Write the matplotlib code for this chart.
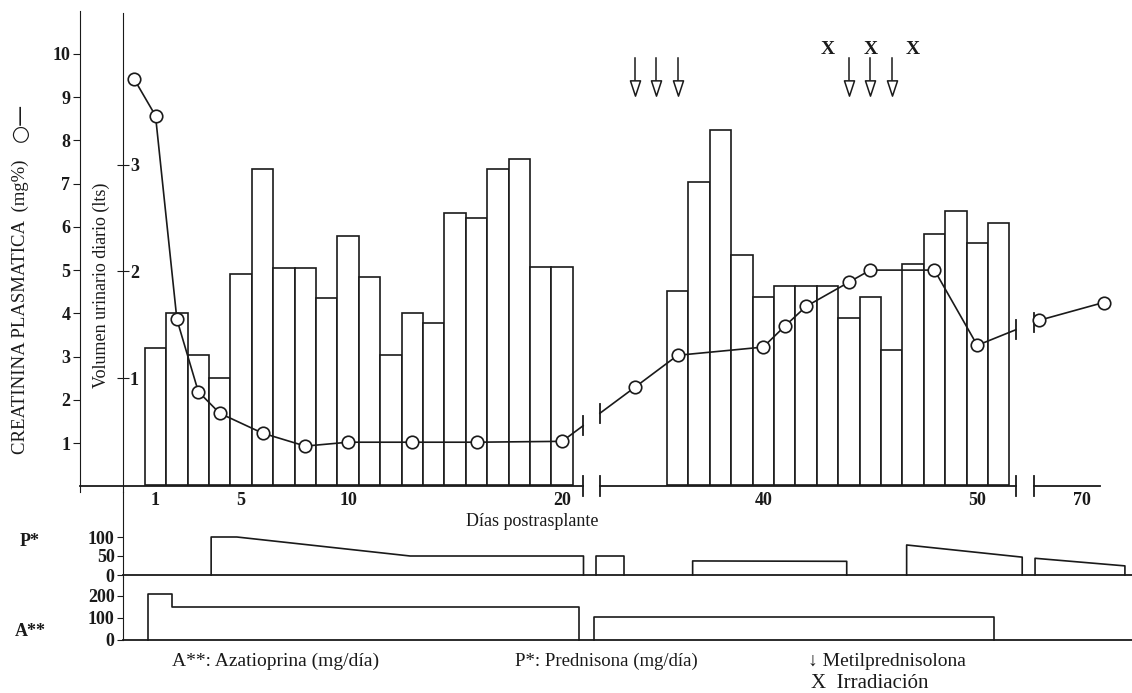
import numpy as np
import matplotlib.pyplot as plt
from matplotlib.path import Path

plt.rcParams['font.family'] = ['Liberation Serif', 'DejaVu Serif']

# creatinina plasmatica (mg%)
crea_days = [0, 1, 2, 3, 4, 6, 8, 10, 13, 16, 20, 34, 36, 40, 41, 42, 44, 45, 48, 50, 68, 71]
crea_vals = [9.42, 8.57, 3.86, 2.19, 1.69, 1.23, 0.93, 1.02, 1.02, 1.02, 1.04,
             2.29, 3.03, 3.22, 3.70, 4.16, 4.72, 5.0, 5.0, 3.26, 3.84, 4.25]

# volumen urinario diario (lts)
vol_days = list(range(1, 21)) + list(range(36, 52))
vol_vals = [1.28, 1.61, 1.22, 1.00, 1.98, 2.96, 2.03, 2.03, 1.75, 2.33,
            1.95, 1.22, 1.61, 1.52, 2.55, 2.50, 2.96, 3.05, 2.04, 2.04,
            1.82, 2.84, 3.32, 2.15, 1.76, 1.86, 1.86, 1.86, 1.56, 1.76,
            1.26, 2.07, 2.35, 2.57, 2.27, 2.45]

# prednisona (mg/dia), trozos
pred_days = [[3.6, 3.6, 4.8, 12.9, 21.0, 21.0],
             [32.2, 32.2, 33.5, 33.5],
             [36.7, 36.7, 43.9, 43.9],
             [46.7, 46.7, 52.1, 52.1],
             [67.8, 67.8, 72.0, 72.0]]
pred_vals = [[0, 100, 100, 50, 50, 0],
             [0, 50, 50, 0],
             [0, 37, 36, 0],
             [0, 79, 47, 0],
             [0, 44, 24, 0]]

# azatioprina (mg/dia)
aza_days = [[0.65, 0.65, 1.77, 1.77, 20.8, 20.8],
            [32.1, 32.1, 50.8, 50.8]]
aza_vals = [[0, 210, 210, 150, 150, 0],
            [0, 105, 105, 0]]

metil_days = [34, 35, 36, 44, 45, 46]
irrad_days = [43, 45, 47]

xtick_days = [1, 5, 10, 20, 40, 50, 70]

W, H = 1132, 693
PXDAY = 21.4
X1 = 155.5          # pixel of day 1
OFF2, OFF3 = 10.6, 25.7
GAPS = [(20.98, 21.77), (41.2, 42.05)]
LC = '#1a1a1a'


def pos(day):
    day = np.asarray(day, dtype=float)
    return np.where(day <= 21.3, day, np.where(day < 60, day - OFF2, day - OFF3))


def px2pos(px):
    return 1 + (px - X1) / PXDAY


def rect(top, bottom):
    return [0, 1 - bottom / H, 1, (bottom - top) / H]


xlim = (px2pos(0), px2pos(W))

fig = plt.figure(figsize=(W / 100, H / 100), dpi=100)

# ---- main panel: creatinine + urine volume
AXB = 492
ax = fig.add_axes(rect(1, AXB))
c0, cpx = 486.3, 43.33
ax.set_xlim(*xlim)
ax.set_ylim((c0 - AXB) / cpx, c0 / cpx)
for s in ['top', 'right', 'bottom']:
    ax.spines[s].set_visible(False)
ax.spines['left'].set_position(('data', px2pos(80)))
ax.spines['left'].set_bounds((c0 - AXB) / cpx, 11.0)
ax.spines['left'].set_color(LC)
ax.set_yticks(range(1, 11))
ax.tick_params(axis='y', direction='out', length=5, labelsize=13, pad=2, colors=LC)
ax.set_xticks(pos(xtick_days))
ax.set_xticklabels([str(d) for d in xtick_days])
ax.tick_params(axis='x', length=0, labelsize=13, pad=0, colors=LC)
for t in ax.get_xticklabels() + ax.get_yticklabels():
    t.set_fontweight('bold')

ax2 = ax.twinx()
v0, vpx = 485, 107
ax2.set_ylim((v0 - AXB) / vpx, v0 / vpx)
for s in ['top', 'left', 'bottom']:
    ax2.spines[s].set_visible(False)
ax2.spines['right'].set_position(('data', px2pos(123)))
ax2.spines['right'].set_bounds((v0 - AXB) / vpx, (v0 - 12) / vpx)
ax2.spines['right'].set_color(LC)
ax2.set_yticks([1, 2, 3])
ax2.tick_params(axis='y', direction='inout', length=8, labelsize=13, pad=1, colors=LC)
for t in ax2.get_yticklabels():
    t.set_fontweight('bold')
ax2.set_zorder(ax.get_zorder() - 1)
ax.patch.set_visible(False)

ax2.bar(pos(vol_days), vol_vals, width=1.0, facecolor='white', edgecolor=LC, linewidth=1.2)

# x axis with breaks
ax.plot([px2pos(80), GAPS[0][0]], [0, 0], color=LC, lw=1.3)
ax.plot([GAPS[0][1], GAPS[1][0]], [0, 0], color=LC, lw=1.3)
ax.plot([GAPS[1][1], px2pos(1100)], [0, 0], color=LC, lw=1.3)
for g in GAPS:
    for xg in g:
        ax.plot([xg, xg], [-0.23, 0.23], color=LC, lw=1.3, clip_on=False)

# creatinine line, cut at the axis breaks
xs = pos(crea_days)
ys = np.array(crea_vals)
seg_x, seg_y = [xs[0]], [ys[0]]
for i in range(1, len(xs)):
    for ga, gb in GAPS:
        if xs[i - 1] < ga and xs[i] > gb:
            ya = np.interp(ga, [xs[i - 1], xs[i]], [ys[i - 1], ys[i]])
            yb = np.interp(gb, [xs[i - 1], xs[i]], [ys[i - 1], ys[i]])
            seg_x.append(ga)
            seg_y.append(ya)
            ax.plot(seg_x, seg_y, color=LC, lw=1.2, zorder=3)
            ax.plot([ga, ga], [ya - 0.22, ya + 0.22], color=LC, lw=1.3, zorder=3)
            ax.plot([gb, gb], [yb - 0.22, yb + 0.22], color=LC, lw=1.3, zorder=3)
            seg_x, seg_y = [gb], [yb]
    seg_x.append(xs[i])
    seg_y.append(ys[i])
ax.plot(seg_x, seg_y, color=LC, lw=1.2, zorder=3)
ax.plot(xs, ys, 'o', ms=9, mfc='white', mec=LC, mew=1.2, zorder=4)

# metilprednisolona arrows and irradiation marks
head = Path([(-0.33, 0.5), (0.33, 0.5), (0, -0.5), (-0.33, 0.5)],
            [Path.MOVETO, Path.LINETO, Path.LINETO, Path.CLOSEPOLY])
for d in metil_days:
    x = pos(d)
    ax.plot([x, x], [9.9, 9.38], color=LC, lw=1.1)
    ax.plot([x], [9.2], marker=head, ms=11, mfc='white', mec=LC, mew=1.1)
for d in irrad_days:
    ax.text(pos(d), 10.1, 'X', ha='center', va='center', fontsize=14,
            fontweight='bold', color=LC)

# ---- prednisona panel
ap = fig.add_axes(rect(AXB, 577))
p0, ppx = 575, 0.38
ap.set_xlim(*xlim)
ap.set_ylim((p0 - 577) / ppx, (p0 - AXB) / ppx)
for s in ['top', 'right', 'bottom']:
    ap.spines[s].set_visible(False)
ap.spines['left'].set_position(('data', px2pos(123)))
ap.spines['left'].set_color(LC)
ap.set_xticks([])
ap.set_yticks([0, 50, 100])
ap.tick_params(axis='y', direction='out', length=4, labelsize=13, pad=2, colors=LC)
ap.patch.set_visible(False)
ap.plot([px2pos(123), xlim[1]], [0, 0], color=LC, lw=1.3)
for dd, vv in zip(pred_days, pred_vals):
    ap.plot(pos(dd), vv, color=LC, lw=1.2)

# ---- azatioprina panel
aa = fig.add_axes(rect(577, 642))
a0, apx = 640, 0.22
aa.set_xlim(*xlim)
aa.set_ylim((a0 - 642) / apx, (a0 - 577) / apx)
for s in ['top', 'right', 'bottom']:
    aa.spines[s].set_visible(False)
aa.spines['left'].set_position(('data', px2pos(123)))
aa.spines['left'].set_bounds(0, (a0 - 577) / apx)
aa.spines['left'].set_color(LC)
aa.set_xticks([])
aa.set_yticks([0, 100, 200])
aa.tick_params(axis='y', direction='out', length=4, labelsize=13, pad=2, colors=LC)
aa.patch.set_visible(False)
aa.plot([px2pos(123), xlim[1]], [0, 0], color=LC, lw=1.3)
for dd, vv in zip(aza_days, aza_vals):
    aa.plot(pos(dd), vv, color=LC, lw=1.2)

for a in (ap, aa):
    for t in a.get_yticklabels():
        t.set_fontweight('bold')

# ---- texts
def ftext(px, py, s, **kw):
    kw.setdefault('color', LC)
    fig.text(px / W, 1 - py / H, s, **kw)


ftext(20, 307, 'CREATININA PLASMATICA  (mg%)', rotation=90, ha='center', va='center', fontsize=13.5)
ftext(20, 122, '○—', rotation=90, ha='center', va='center', fontsize=15,
      family=['DejaVu Sans'])
ftext(101, 285, 'Volumen urinario diario (lts)', rotation=90, ha='center', va='center', fontsize=13)
ftext(532, 522, 'Días postrasplante', ha='center', va='center', fontsize=13)
ftext(30, 542, 'P*', ha='center', va='center', fontsize=13, fontweight='bold')
ftext(30, 632, 'A**', ha='center', va='center', fontsize=13, fontweight='bold')
ftext(276, 661, 'A**: Azatioprina (mg/día)', ha='center', va='center', fontsize=14)
ftext(606, 661, 'P*: Prednisona (mg/día)', ha='center', va='center', fontsize=13.5)
ftext(808, 661, '↓ Metilprednisolona', ha='left', va='center', fontsize=14)
ftext(811, 683, 'X  Irradiación', ha='left', va='center', fontsize=15)

fig.savefig('out.png', dpi=100, facecolor='white')
